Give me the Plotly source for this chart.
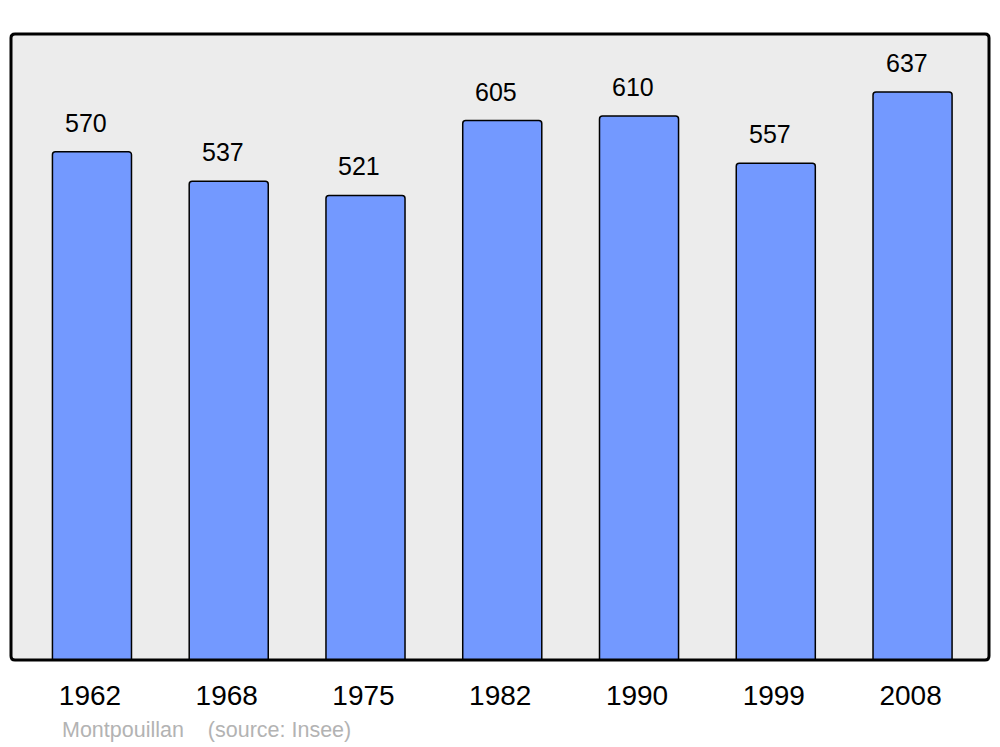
import plotly.graph_objects as go

years = ["1962", "1968", "1975", "1982", "1990", "1999", "2008"]
population = [570, 537, 521, 605, 610, 557, 637]
place = "Montpouillan"
source = "(source: Insee)"

W, H = 1000, 747
ml, mr, mt, mb = 11, 11, 34, 87

fig = go.Figure()
fig.add_trace(go.Bar(
    x=list(range(len(years))), y=population, width=0.578,
    marker=dict(color="#7399ff", line=dict(color="#000000", width=1.5)),
    hoverinfo="skip",
))

for i, v in enumerate(population):
    fig.add_annotation(x=i, y=v, text=str(v), showarrow=False,
                       yanchor="bottom", xanchor="center", yshift=13, xshift=-6,
                       font=dict(family="Liberation Sans, Arial", size=25, color="#000000"))

fig.add_annotation(xref="paper", yref="paper", x=(60 - ml) / (W - ml - mr), y=-(730 - (H - mb)) / (H - mt - mb),
                   text=place + "\u00a0\u00a0\u00a0\u00a0" + source, showarrow=False,
                   xanchor="left", yanchor="middle",
                   font=dict(family="Liberation Sans, Arial", size=21.5, color="#b3b3b3"))

# rounded frame
pw, ph = W - ml - mr, H - mt - mb
rx, ry = 4 / pw, 4 / ph
path = (f"M {rx},0 L {1-rx},0 Q 1,0 1,{ry} L 1,{1-ry} Q 1,1 {1-rx},1 "
        f"L {rx},1 Q 0,1 0,{1-ry} L 0,{ry} Q 0,0 {rx},0 Z")
fig.add_shape(type="path", xref="paper", yref="paper", path=path,
              line=dict(color="#000000", width=3), layer="above")

fig.update_layout(
    width=W, height=H,
    margin=dict(l=ml, r=mr, t=mt, b=mb),
    paper_bgcolor="#ffffff", plot_bgcolor="#ececec",
    showlegend=False, barcornerradius=3,
    xaxis=dict(range=[-0.592, 6.559], showgrid=False, zeroline=False,
               showline=False, ticks="", ticklabelstandoff=16, ticklabelshift=-2,
               tickmode="array", tickvals=list(range(len(years))), ticktext=years,
               tickfont=dict(family="Liberation Sans, Arial", size=28, color="#000000")),
    yaxis=dict(range=[0, 702], showgrid=False, zeroline=False, showline=False,
               showticklabels=False, ticks=""),
)

fig.write_html("out.html", config={"displayModeBar": False},
               post_script="document.body.style.margin='0px';")
